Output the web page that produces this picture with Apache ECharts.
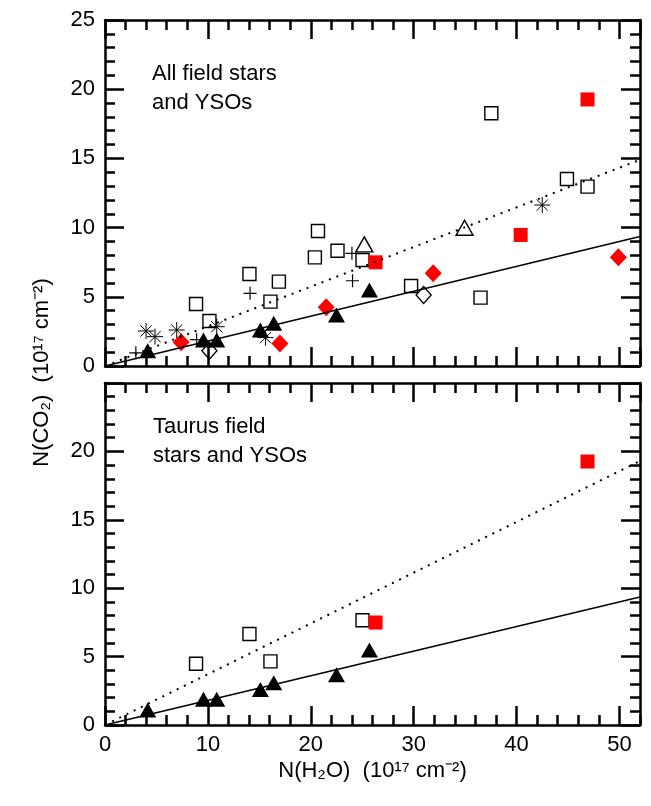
<!DOCTYPE html>
<html>
<head>
<meta charset="utf-8">
<script src="https://cdn.jsdelivr.net/npm/echarts@6/dist/echarts.min.js"></script>
<style>
    html, body { margin: 0; padding: 0; background: #fff; }
    #main { width: 651px; height: 806px; }
</style>
</head>
<body>
<div id="main"></div>
<script type="text/javascript">
    // N(H2O), N(CO2) in 10^17 cm^-2
    var openSquares = [[8.85, 4.48], [10.15, 3.25], [14.04, 6.65], [16.9, 6.1], [16.08, 4.65], [20.7, 9.75],
        [20.4, 7.85], [22.6, 8.33], [25.03, 7.66], [29.75, 5.78], [36.5, 4.94], [37.55, 18.26],
        [44.9, 13.51], [46.9, 12.96]];
    var redSquares = [[26.3, 7.49], [40.4, 9.47], [46.9, 19.26]];
    var redDiamonds = [[7.4, 1.71], [17.0, 1.63], [21.5, 4.24], [31.9, 6.7], [49.9, 7.85]];
    var blackTriangles = [[4.15, 1.1], [9.57, 1.88], [10.86, 1.88], [15.1, 2.6], [16.4, 3.08], [22.5, 3.68], [25.7, 5.49]];
    var openTriangles = [[25.2, 8.79], [34.95, 9.99]];
    var openDiamonds = [[10.15, 1.1], [30.97, 5.13]];
    var plusSigns = [[3.0, 0.95], [8.9, 1.9], [14.1, 5.25], [24.0, 8.14], [24.06, 6.16]];
    var asterisks = [[3.99, 2.53], [4.86, 2.12], [6.97, 2.6], [10.86, 2.84], [15.6, 2.05], [42.5, 11.63]];

    // Taurus subset (lower panel)
    var taurusOpenSquares = [[8.85, 4.48], [14.04, 6.65], [16.08, 4.65], [25.03, 7.66]];
    var taurusRedSquares = [[26.3, 7.49], [46.9, 19.26]];
    var taurusTriangles = [[4.15, 1.1], [9.57, 1.88], [10.86, 1.88], [15.1, 2.6], [16.4, 3.08], [22.5, 3.68], [25.7, 5.49]];

    // fitted lines (end points)
    var fitSolid = [[0, 0], [52, 9.35]];
    var fitDottedAll = [[0, 0], [52, 14.9]];
    var fitDottedTaurus = [[0, 0], [52, 19.3]];

    var font = 'Liberation Sans, Arial, Helvetica, sans-serif';
    var plusPath = 'path://M0,6L12,6M6,0L6,12';
    var starPath = 'path://M6,0L6,12M0,6L12,6M1.76,1.76L10.24,10.24M1.76,10.24L10.24,1.76';
    var black = {color: '#000', width: 2.5};
    var textStyle = {fontSize: 22, fontWeight: 'normal', fontFamily: font, color: '#000'};

    // x axes: one with long ticks every 10, one with short ticks every 2
    function xAx(grid, pos, step, len, frame, labels, inside) {
        return {
            type: 'value', gridIndex: grid, position: pos, min: 0, max: 52, interval: step,
            splitLine: {show: false},
            axisLine: {show: frame, onZero: false, lineStyle: black},
            axisTick: {show: true, inside: inside !== false, length: len, lineStyle: black},
            axisLabel: {show: labels, color: '#000', fontSize: 22, fontFamily: font, margin: 9, showMaxLabel: false}
        };
    }
    function yAx(grid, pos, labels, hideTop) {
        return {
            type: 'value', gridIndex: grid, position: pos, min: 0, max: 25, interval: 5,
            splitLine: {show: false},
            axisLine: {show: true, onZero: false, lineStyle: black},
            axisTick: {show: true, inside: true, length: 19, lineStyle: black},
            minorTick: {show: true, splitNumber: 5, length: 10, lineStyle: black},
            axisLabel: {
                show: labels, color: '#000', fontSize: 22, fontFamily: font, margin: 10,
                formatter: function (v) { return (hideTop && v === 25) ? '' : String(v); }
            }
        };
    }
    function hidden(grid) {
        return {type: 'value', gridIndex: grid, show: false, min: 0, max: 1};
    }

    function pts(data, xi, yi, symbol, size, fill, stroke, bw) {
        return {
            type: 'scatter', xAxisIndex: xi, yAxisIndex: yi, data: data,
            symbol: symbol, symbolSize: size,
            itemStyle: {color: fill, borderColor: stroke || fill, borderWidth: stroke ? (bw || 1.4) : 0, opacity: 1}
        };
    }
    function fitLine(ends, dotted) {
        return {
            silent: true, symbol: 'none', label: {show: false}, animation: false,
            lineStyle: dotted ? {color: '#000', width: 2, type: [2, 6]} : {color: '#000', width: 1.5, type: 'solid'},
            emphasis: {disabled: true},
            data: [[{coord: ends[0]}, {coord: ends[1]}]]
        };
    }

    var sqAll = pts(openSquares, 0, 0, 'rect', 13, 'transparent', '#000');
    sqAll.markLine = fitLine(fitDottedAll, true);
    var triAll = pts(blackTriangles, 0, 0, 'triangle', [17, 15], '#000');
    triAll.markLine = fitLine(fitSolid, false);
    var sqTau = pts(taurusOpenSquares, 4, 2, 'rect', 13, 'transparent', '#000');
    sqTau.markLine = fitLine(fitDottedTaurus, true);
    var triTau = pts(taurusTriangles, 4, 2, 'triangle', [17, 15], '#000');
    triTau.markLine = fitLine(fitSolid, false);

    var xTitle = xAx(1, 'bottom', 10, 19, true, true);
    xTitle.name = 'N(H\u2082O)  (10\u00b9\u2077 cm\u207b\u00b2)';
    xTitle.nameLocation = 'middle';
    xTitle.nameGap = 35;
    xTitle.nameTextStyle = textStyle;

    var myChart = echarts.init(document.getElementById('main'));
    var option = {
        animation: false,
        title: [
            {text: 'All field stars', left: 147, top: 58, textStyle: textStyle},
            {text: 'and YSOs', left: 147, top: 87, textStyle: textStyle},
            {text: 'Taurus field', left: 148, top: 411, textStyle: textStyle},
            {text: 'stars and YSOs', left: 148, top: 440, textStyle: textStyle}
        ],
        grid: [
            {left: 105, top: 20, width: 535, height: 346},   // upper panel
            {left: 105, top: 383, width: 535, height: 342},  // lower panel
            {left: 105, top: 20, width: 535, height: 705},   // shared y title
            {left: 105, top: 300, width: 535, height: 83},   // top frame of lower panel
            {left: 640, top: 383, width: 8, height: 342}     // right frame of lower panel
        ],
        xAxis: [
            xAx(0, 'bottom', 10, 19, true, false),
            xAx(0, 'bottom', 2, 10, false, false),
            xAx(0, 'top', 10, 19, true, false),
            xAx(0, 'top', 2, 10, false, false),
            xTitle,
            xAx(1, 'bottom', 2, 10, false, false),
            hidden(2),
            xAx(3, 'bottom', 10, 19, true, false, false),
            xAx(3, 'bottom', 2, 10, false, false, false),
            hidden(4)
        ],
        yAxis: [
            yAx(0, 'left', true, false),
            yAx(0, 'right', false, false),
            yAx(1, 'left', true, true),
            {
                type: 'value', gridIndex: 2, min: 0, max: 1, position: 'left',
                axisLine: {show: false}, axisTick: {show: false}, axisLabel: {show: false}, splitLine: {show: false},
                name: 'N(CO\u2082)  (10\u00b9\u2077 cm\u207b\u00b2)',
                nameLocation: 'middle', nameGap: 52, nameRotate: 90,
                nameTextStyle: textStyle
            },
            hidden(3),
            {
                type: 'value', gridIndex: 4, position: 'left', min: 0, max: 25, interval: 5,
                splitLine: {show: false},
                axisLine: {show: true, lineStyle: black},
                axisTick: {show: true, inside: false, length: 19, lineStyle: black},
                minorTick: {show: true, splitNumber: 5, length: 10, lineStyle: black},
                axisLabel: {show: false}
            }
        ],
        series: [
            sqAll,
            pts(redSquares, 0, 0, 'rect', 14, '#ff0000'),
            pts(redDiamonds, 0, 0, 'diamond', [17, 18], '#ff0000'),
            triAll,
            pts(openTriangles, 0, 0, 'triangle', [17, 15], 'transparent', '#000'),
            pts(openDiamonds, 0, 0, 'diamond', [15, 17], 'transparent', '#000'),
            pts(plusSigns, 0, 0, plusPath, 13, 'transparent', '#000', 1.2),
            pts(asterisks, 0, 0, starPath, 16, 'transparent', '#000', 1),

            sqTau,
            pts(taurusRedSquares, 4, 2, 'rect', 14, '#ff0000'),
            triTau
        ]
    };
    myChart.setOption(option);
</script>
</body>
</html>
